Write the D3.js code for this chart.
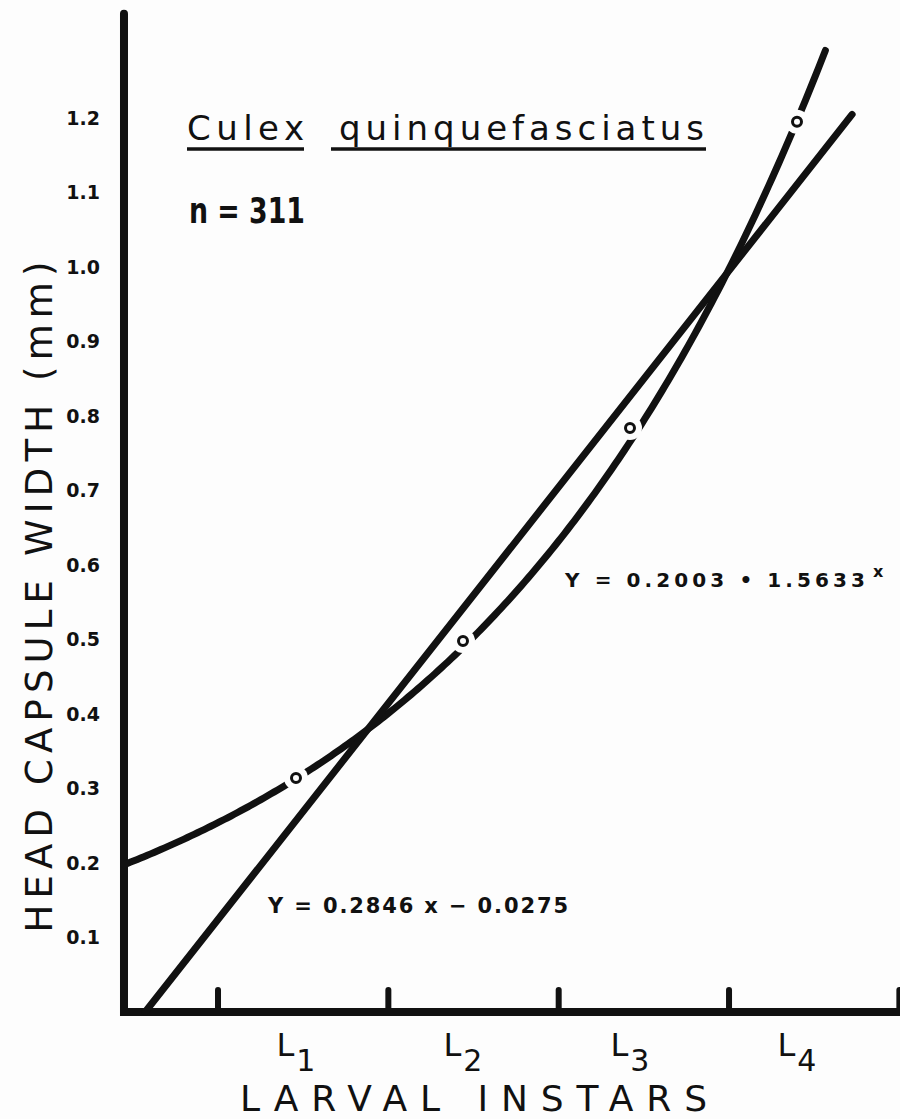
<!DOCTYPE html>
<html>
<head>
<meta charset="utf-8">
<script src="https://cdn.jsdelivr.net/npm/d3@7"></script>
<style>
  body { margin: 0; background: #fdfdfd; }
  text { font-family: "DejaVu Sans", sans-serif; fill: #111; }
</style>
</head>
<body>
<div id="chart"></div>
<script>
// data
const instars = [1, 2, 3, 4]
const meanWidth = [0.314, 0.498, 0.784, 1.195]
const yTicks = [0.1, 0.2, 0.3, 0.4, 0.5, 0.6, 0.7, 0.8, 0.9, 1.0, 1.1, 1.2]
const xTicks = [0.53, 1.55, 2.57, 3.59, 4.61]
const expFit = { a: 0.2003, b: 1.5633, from: -0.03, to: 4.17 }
const linFit = { m: 0.2846, c: -0.0275, from: 0.0966, to: 4.33 }

const width = 900
const height = 1119
const ink = '#111'

const svg = d3.select('#chart')
    .append('svg')
    .attr('width', width)
    .attr('height', height)

////////////////////////////////////
//////////////scales////////////////
////////////////////////////////////

const xScale = d3.scaleLinear()
    .domain([1, 4])
    .range([296, 797])

const yScale = d3.scaleLinear()
    .domain([0, 1.2])
    .range([1012, 118])

////////////////////////////////////
//////////////axes//////////////////
////////////////////////////////////

// y labels only, no tick marks
svg.append('g')
    .attr('transform', `translate(${xScale(-0.03)},0)`)
    .call(d3.axisLeft(yScale).tickValues(yTicks).tickSize(0).tickPadding(24).tickFormat(d3.format('.1f')))
    .call(g => g.select('.domain').remove())
    .selectAll('text')
    .style('font-size', '19px')
    .style('font-weight', 'bold')
    .style('font-family', '"DejaVu Sans", sans-serif')
    .attr('fill', ink)

// x ticks point upwards
svg.append('g')
    .attr('transform', `translate(0,${yScale(0) - 4})`)
    .call(d3.axisBottom(xScale).tickValues(xTicks).tickSize(-18).tickFormat(''))
    .call(g => g.select('.domain').remove())
    .selectAll('line')
    .attr('stroke', ink)
    .attr('stroke-width', 6)
    .attr('stroke-linecap', 'round')

// thick axis lines
svg.append('path')
    .attr('d', d3.line()([
        [xScale(-0.03), yScale(1.34)],
        [xScale(-0.03), yScale(0)],
        [xScale(4.65), yScale(0)]
    ]))
    .attr('fill', 'none')
    .attr('stroke', ink)
    .attr('stroke-width', 8)
    .attr('stroke-linecap', 'round')

////////////////////////////////////
//////////////fits//////////////////
////////////////////////////////////

const line = d3.line()
    .x(d => xScale(d[0]))
    .y(d => yScale(d[1]))

const expPts = d3.range(expFit.from, expFit.to, 0.02).concat([expFit.to])
    .map(x => [x, expFit.a * Math.pow(expFit.b, x)])
const linPts = [linFit.from, linFit.to].map(x => [x, linFit.m * x + linFit.c])

svg.append('path')
    .attr('d', line(expPts))
    .attr('fill', 'none')
    .attr('stroke', ink)
    .attr('stroke-width', 7)
    .attr('stroke-linecap', 'round')

svg.append('path')
    .attr('d', line(linPts))
    .attr('fill', 'none')
    .attr('stroke', ink)
    .attr('stroke-width', 7)
    .attr('stroke-linecap', 'round')

// gaps in the curve round each mean
svg.selectAll('.halo')
    .data(instars)
    .join('circle')
    .attr('class', 'halo')
    .attr('cx', d => xScale(d))
    .attr('cy', (d, i) => yScale(meanWidth[i]))
    .attr('r', 12)
    .attr('fill', '#fdfdfd')

svg.selectAll('.mean')
    .data(instars)
    .join('circle')
    .attr('class', 'mean')
    .attr('cx', d => xScale(d))
    .attr('cy', (d, i) => yScale(meanWidth[i]))
    .attr('r', 4.5)
    .attr('fill', 'none')
    .attr('stroke', ink)
    .attr('stroke-width', 3)

////////////////////////////////////
//////////////labels////////////////
////////////////////////////////////

// instar labels L1..L4
const lab = svg.selectAll('.instar')
    .data(instars)
    .join('text')
    .attr('class', 'instar')
    .attr('x', d => xScale(d))
    .attr('y', 1056)
    .attr('text-anchor', 'middle')
    .style('font-size', '32px')
lab.append('tspan').text('L')
lab.append('tspan').attr('dy', 15).attr('dx', 2).style('font-size', '30px').text(d => d)

svg.append('text')
    .attr('x', 240)
    .attr('y', 1111)
    .attr('textLength', 467)
    .attr('lengthAdjust', 'spacing')
    .style('font-size', '36px')
    .text('LARVAL INSTARS')

svg.append('text')
    .attr('transform', 'translate(52,597) rotate(-90)')
    .attr('text-anchor', 'middle')
    .attr('textLength', 671)
    .attr('lengthAdjust', 'spacing')
    .style('font-size', '37px')
    .text('HEAD CAPSULE WIDTH (mm)')

// species title, each word underlined
const words = [
    { t: 'Culex', x: 187, w: 117, u0: 187, u1: 304 },
    { t: 'quinquefasciatus', x: 339, w: 365, u0: 331, u1: 706 }
]
words.forEach(d => {
    svg.append('text')
        .attr('x', d.x)
        .attr('y', 140)
        .attr('textLength', d.w)
        .attr('lengthAdjust', 'spacing')
        .style('font-size', '34px')
        .text(d.t)
    svg.append('line')
        .attr('x1', d.u0).attr('x2', d.u1)
        .attr('y1', 149).attr('y2', 149)
        .attr('stroke', ink)
        .attr('stroke-width', 3.5)
})

svg.append('text')
    .attr('x', 189)
    .attr('y', 223)
    .attr('textLength', 116)
    .attr('lengthAdjust', 'spacingAndGlyphs')
    .style('font-size', '36px')
    .style('font-weight', 'bold')
    .text('n = 311')

// equations
svg.append('text')
    .attr('x', 565)
    .attr('y', 587)
    .attr('textLength', 300)
    .attr('lengthAdjust', 'spacing')
    .style('font-size', '20px')
    .style('font-weight', 'bold')
    .text('Y = 0.2003 • 1.5633')
svg.append('text')
    .attr('x', 873)
    .attr('y', 577)
    .style('font-size', '16px')
    .style('font-weight', 'bold')
    .text('x')

svg.append('text')
    .attr('x', 268)
    .attr('y', 913)
    .attr('textLength', 300)
    .attr('lengthAdjust', 'spacing')
    .style('font-size', '21px')
    .style('font-weight', 'bold')
    .text('Y = 0.2846 x  − 0.0275')
</script>
</body>
</html>
